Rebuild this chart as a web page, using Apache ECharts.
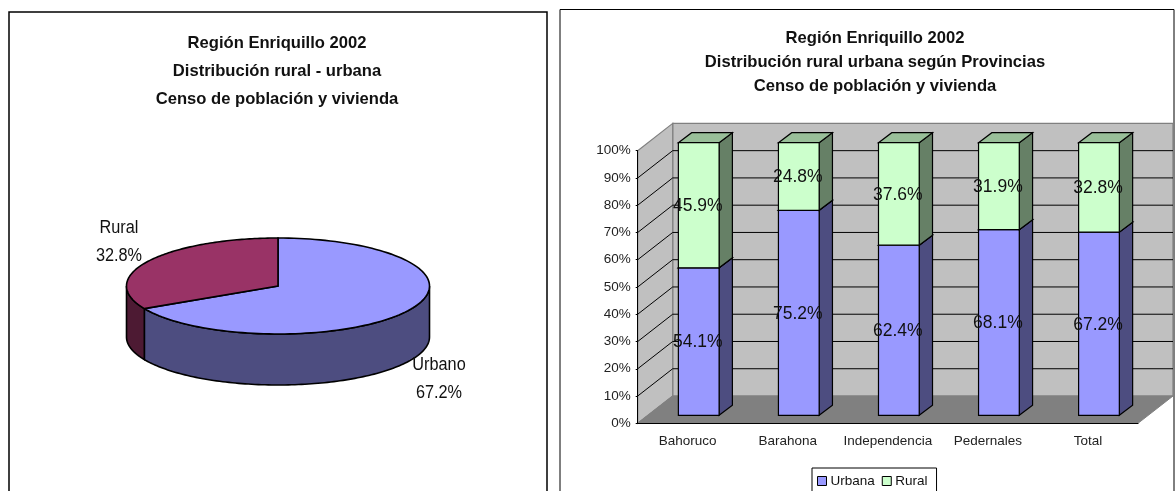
<!DOCTYPE html>
<html>
<head>
<meta charset="utf-8">
<title>Región Enriquillo 2002</title>
<script src="https://cdn.jsdelivr.net/npm/echarts@6/dist/echarts.min.js"></script>
<style>
html, body { margin: 0; padding: 0; background: #fff; overflow: hidden; }
#chart { width: 1175px; height: 491px; }
</style>
</head>
<body>
<div id="chart"></div>
<script>
var FONT = '"Liberation Sans", Arial, sans-serif';

// datos del pastel
var pieNames = ['Urbano', 'Rural'];
var pieValues = [67.2, 32.8];

// datos de las barras
var provincias = ['Bahoruco', 'Barahona', 'Independencia', 'Pedernales', 'Total'];
var urbana = [54.1, 75.2, 62.4, 68.1, 67.2];
var rural = [45.9, 24.8, 37.6, 31.9, 32.8];
var yTicks = [0, 10, 20, 30, 40, 50, 60, 70, 80, 90, 100];

var tituloPie = 'Región Enriquillo 2002\nDistribución rural - urbana\nCenso de población y vivienda';
var tituloBar = 'Región Enriquillo 2002\nDistribución rural urbana según Provincias\nCenso de población y vivienda';

var pieColors = [
    { top: '#9999ff', side: '#4d4d80' },
    { top: '#993366', side: '#4d1a33' }
];
var pieLabelPos = [[439, 379], [119, 242.5]];

// pastel en perspectiva: elipse aplastada con pared lateral
function renderPie(params, api) {
    var i = params.dataIndex;
    var cx = 278, cy = 286, rx = 151.5, ry = 48, h = 51;
    var total = 0, before = 0;
    for (var k = 0; k < pieValues.length; k++) {
        total += pieValues[k];
        if (k < i) before += pieValues[k];
    }
    var a0 = before / total * Math.PI * 2;
    var a1 = (before + api.value(0)) / total * Math.PI * 2;
    function pt(t, dy) {
        return [cx + rx * Math.sin(t), cy - ry * Math.cos(t) + dy];
    }
    var topPts = [[cx, cy]];
    var n = 120;
    for (var s = 0; s <= n; s++) {
        topPts.push(pt(a0 + (a1 - a0) * s / n, 0));
    }
    var children = [];
    var s0 = Math.max(a0, Math.PI / 2), s1 = Math.min(a1, Math.PI * 1.5);
    if (s1 > s0) {
        var up = [], down = [];
        for (var q = 0; q <= n; q++) {
            var t = s0 + (s1 - s0) * q / n;
            up.push(pt(t, 0));
            down.unshift(pt(t, h));
        }
        children.push({
            type: 'polygon',
            shape: { points: up.concat(down) },
            style: { fill: pieColors[i].side, stroke: '#000', lineWidth: 1.6 }
        });
    }
    children.push({
        type: 'polygon',
        shape: { points: topPts },
        style: { fill: pieColors[i].top, stroke: '#000', lineWidth: 1.6 }
    });
    children.push({
        type: 'text',
        x: pieLabelPos[i][0],
        y: pieLabelPos[i][1],
        scaleX: 0.93,
        style: {
            text: pieNames[i] + '\n' + api.value(0).toFixed(1) + '%',
            font: '17.5px ' + FONT,
            fill: '#111',
            align: 'center',
            verticalAlign: 'middle',
            lineHeight: 28
        }
    });
    return { type: 'group', children: children };
}

// paredes y piso del grafico 3d
var DX = 35, DY = -27.3;
function renderWalls(params, api) {
    var val = api.value(0);
    var r = params.coordSys;
    var y = api.coord([0, val])[1];
    var l = r.x, b = r.y + r.height, t = r.y, w = r.width;
    var children = [];
    if (val === 0) {
        children.push({
            type: 'polygon',
            shape: { points: [[l + DX, t + DY], [l + w + DX, t + DY], [l + w + DX, b + DY], [l + DX, b + DY]] },
            style: { fill: '#c0c0c0', stroke: '#808080', lineWidth: 1.2 }
        });
        children.push({
            type: 'polygon',
            shape: { points: [[l, t], [l + DX, t + DY], [l + DX, b + DY], [l, b]] },
            style: { fill: '#c0c0c0', stroke: '#808080', lineWidth: 1.2 }
        });
        children.push({
            type: 'polygon',
            shape: { points: [[l, b], [l + DX, b + DY], [l + w + DX, b + DY], [l + w, b]] },
            style: { fill: '#808080', stroke: '#808080', lineWidth: 1 }
        });
    } else if (val < 100) {
        children.push({
            type: 'polyline',
            shape: { points: [[l, y], [l + DX, y + DY], [l + w + DX, y + DY]] },
            style: { fill: null, stroke: '#000', lineWidth: 1 }
        });
    }
    return { type: 'group', children: children };
}

// barra con cara frontal, lateral y superior
function renderBar(params, api) {
    var i = api.value(0);
    var start = api.value(1);
    var end = start + api.value(2);
    var bw = api.size([1, 0])[0] * 0.407;
    var x0 = api.coord([i, 0])[0] - bw / 2 + 11;
    var x1 = x0 + bw;
    var y0 = api.coord([i, start])[1] - 8;
    var y1 = api.coord([i, end])[1] - 8;
    var ox = 13.3, oy = -10;
    var colors = params.seriesIndex === 2
        ? { front: '#9999ff', side: '#4d4d80', top: '#7373bf' }
        : { front: '#ccffcc', side: '#668066', top: '#99bf99' };
    var line = { stroke: '#000', lineWidth: 1.2 };
    return {
        type: 'group',
        children: [
            {
                type: 'polygon',
                shape: { points: [[x1, y0], [x1 + ox, y0 + oy], [x1 + ox, y1 + oy], [x1, y1]] },
                style: { fill: colors.side, stroke: line.stroke, lineWidth: line.lineWidth }
            },
            {
                type: 'polygon',
                shape: { points: [[x0, y1], [x0 + ox, y1 + oy], [x1 + ox, y1 + oy], [x1, y1]] },
                style: { fill: colors.top, stroke: line.stroke, lineWidth: line.lineWidth }
            },
            {
                type: 'rect',
                shape: { x: x0, y: y1, width: bw, height: y0 - y1 },
                style: { fill: colors.front, stroke: line.stroke, lineWidth: line.lineWidth }
            },
            {
                type: 'text',
                z2: 50,
                x: (x0 + x1) / 2 - 1,
                y: (y0 + y1) / 2 + 1,
                style: {
                    text: api.value(2).toFixed(1) + '%',
                    font: '17.5px ' + FONT,
                    fill: '#111',
                    align: 'center',
                    verticalAlign: 'middle'
                }
            }
        ]
    };
}

var dataUrbana = urbana.map(function (v, i) { return [i, 0, v]; });
var dataRural = rural.map(function (v, i) { return [i, urbana[i], v]; });

var option = {
    animation: false,
    backgroundColor: '#fff',
    textStyle: { fontFamily: FONT },
    title: [
        {
            text: tituloPie,
            left: 272,
            top: 24,
            textAlign: 'center',
            textStyle: { fontFamily: FONT, fontSize: 16.6, fontWeight: 'bold', color: '#111', lineHeight: 28 }
        },
        {
            text: tituloBar,
            left: 870,
            top: 21,
            textAlign: 'center',
            textStyle: { fontFamily: FONT, fontSize: 16.6, fontWeight: 'bold', color: '#111', lineHeight: 24 }
        }
    ],
    graphic: [
        {
            type: 'rect',
            z: -1,
            shape: { x: 9, y: 12, width: 538, height: 500 },
            style: { fill: '#fff', stroke: '#000', lineWidth: 1.5 }
        },
        {
            type: 'rect',
            z: -1,
            shape: { x: 560, y: 9.5, width: 614, height: 500 },
            style: { fill: '#fff', stroke: '#000', lineWidth: 1 }
        }
    ],
    legend: {
        left: 812,
        top: 468,
        orient: 'horizontal',
        padding: [6, 9, 8, 5],
        itemGap: 7,
        itemWidth: 9,
        itemHeight: 9,
        icon: 'rect',
        backgroundColor: '#fff',
        borderColor: '#000',
        borderWidth: 1,
        data: ['Urbana', 'Rural'],
        textStyle: { fontFamily: FONT, fontSize: 13.5, color: '#111', padding: [0, 0, 0, -1] },
        itemStyle: { borderColor: '#000', borderWidth: 1 }
    },
    grid: { left: 637.7, top: 150.7, width: 500.3, height: 272.6, containLabel: false },
    xAxis: {
        type: 'category',
        data: provincias,
        z: 10,
        axisLine: { lineStyle: { color: '#000', width: 1 } },
        axisTick: { length: 3, lineStyle: { color: '#000' } },
        axisLabel: { color: '#222', fontSize: 13.5, fontFamily: FONT, margin: 11, interval: 0 },
        splitLine: { show: false }
    },
    yAxis: {
        type: 'value',
        min: 0,
        max: 100,
        interval: 10,
        z: 10,
        axisLine: { show: true, lineStyle: { color: '#000', width: 1 } },
        axisTick: { show: true, length: 2, lineStyle: { color: '#000' } },
        axisLabel: {
            color: '#222',
            fontSize: 13.5,
            fontFamily: FONT,
            margin: 7,
            padding: [2, 0, 0, 0],
            formatter: '{value}%'
        },
        splitLine: { show: false }
    },
    series: [
        {
            type: 'custom',
            name: 'Pastel',
            coordinateSystem: 'none',
            renderItem: renderPie,
            silent: true,
            data: pieValues.map(function (v) { return [v]; })
        },
        {
            type: 'custom',
            name: 'Paredes',
            renderItem: renderWalls,
            silent: true,
            encode: { x: -1, y: 0 },
            data: yTicks.map(function (v) { return [v]; })
        },
        {
            type: 'custom',
            name: 'Urbana',
            z: 3,
            renderItem: renderBar,
            itemStyle: { color: '#9999ff' },
            encode: { x: 0, y: [1, 2] },
            data: dataUrbana
        },
        {
            type: 'custom',
            name: 'Rural',
            z: 4,
            renderItem: renderBar,
            itemStyle: { color: '#ccffcc' },
            encode: { x: 0, y: [1, 2] },
            data: dataRural
        }
    ]
};

var chart = echarts.init(document.getElementById('chart'), null, { renderer: 'canvas' });
chart.setOption(option);
</script>
</body>
</html>
